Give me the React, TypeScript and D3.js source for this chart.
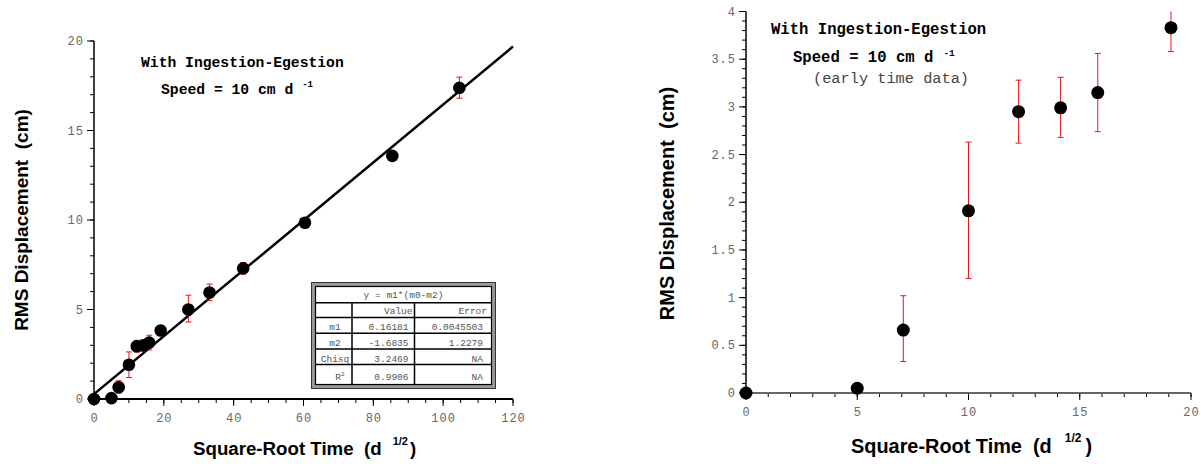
import React from "react";
import * as d3 from "d3";

// ---- data ----
const earlyX = [0, 5, 7.07, 10, 12.25, 14.14, 15.81, 19.1];
const earlyY = [0, 0.05, 0.66, 1.91, 2.95, 2.99, 3.15, 3.83];
const earlyLo = [0, 0.05, 0.33, 1.2, 2.62, 2.68, 2.74, 3.58];
const earlyHi = [0, 0.05, 1.02, 2.63, 3.28, 3.31, 3.56, 4.09];
const lateX = [27.02, 33.09, 42.72, 60.42, 85.44, 104.64];
const lateY = [5.0, 5.95, 7.3, 9.85, 13.58, 17.38];
const lateLo = [4.3, 5.5, 6.98, 9.75, 13.5, 16.8];
const lateHi = [5.8, 6.42, 7.62, 9.95, 13.66, 17.98];
const fitM1 = 0.16181;
const fitM2 = -1.6835;
const tableTitle = "y = m1*(m0-m2)";
const tableHead = ["", "Value", "Error"];
const tableNames = ["m1", "m2", "Chisq", "R"];
const tableValues = ["0.16181", "-1.6835", "3.2469", "0.9906"];
const tableErrors = ["0.0045503", "1.2279", "NA", "NA"];

const allX = [...earlyX, ...lateX];
const allY = [...earlyY, ...lateY];
const allLo = [...earlyLo, ...lateLo];
const allHi = [...earlyHi, ...lateHi];

const MONO = "'Liberation Mono', 'Courier New', monospace";
const SANS = "'Liberation Sans', Arial, Helvetica, sans-serif";
const RED = "#e8161b";

type AxisCfg = {
  x: d3.ScaleLinear<number, number>;
  y: d3.ScaleLinear<number, number>;
  xMajor: number[];
  xMinor: number[];
  yMajor: number[];
  yMinor: number[];
  xAxisColor: string;
};

function Axes({ x, y, xMajor, xMinor, yMajor, yMinor, xAxisColor }: AxisCfg) {
  const x0 = x.range()[0];
  const y0 = y.range()[0];
  const fmt = (v: number) => String(+v.toFixed(2));
  return (
    <g>
      {yMinor.map((v, i) => (
        <line key={"ym" + i} x1={x0 - 4} x2={x0} y1={y(v)} y2={y(v)} stroke="#000" strokeWidth={1} />
      ))}
      {yMajor.map((v, i) => (
        <g key={"yM" + i}>
          <line x1={x0 - 7} x2={x0} y1={y(v)} y2={y(v)} stroke="#000" strokeWidth={1} />
          <text x={x0 - 10} y={y(v) + 4} textAnchor="end" fontFamily={MONO} fontSize={12} fill="#666" letterSpacing={1}>
            {fmt(v)}
          </text>
        </g>
      ))}
      {xMinor.map((v, i) => (
        <line key={"xm" + i} x1={x(v)} x2={x(v)} y1={y0} y2={y0 + 4} stroke="#000" strokeWidth={1} />
      ))}
      {xMajor.map((v, i) => (
        <g key={"xM" + i}>
          <line x1={x(v)} x2={x(v)} y1={y0} y2={y0 + 7} stroke="#000" strokeWidth={1} />
          <text x={x(v) + 0.5} y={y0 + 23} textAnchor="middle" fontFamily={MONO} fontSize={12} fill="#666" letterSpacing={1}>
            {fmt(v)}
          </text>
        </g>
      ))}
      <line x1={x0} x2={x0} y1={y0} y2={y.range()[1]} stroke="#000" strokeWidth={1.5} />
      <line x1={x0} x2={x.range()[1]} y1={y0} y2={y0} stroke={xAxisColor} strokeWidth={2} />
    </g>
  );
}

function Points({ x, y, xs, ys, lo, hi, r, yMax }: any) {
  return (
    <g>
      {xs.map((xv: number, i: number) => {
        if (hi[i] - lo[i] < 0.01) return null;
        const clipped = hi[i] > yMax;
        const top = Math.min(hi[i], yMax);
        const cx = x(xv);
        return (
          <g key={"e" + i} stroke={RED} strokeWidth={1}>
            <line x1={cx} x2={cx} y1={y(lo[i])} y2={y(top)} />
            <line x1={cx - 3} x2={cx + 3} y1={y(lo[i])} y2={y(lo[i])} />
            {!clipped && <line x1={cx - 3} x2={cx + 3} y1={y(top)} y2={y(top)} />}
          </g>
        );
      })}
      {xs.map((xv: number, i: number) => (
        <circle key={"p" + i} cx={x(xv)} cy={y(ys[i])} r={r} fill="#000" />
      ))}
    </g>
  );
}

export default function App() {
  const xL = d3.scaleLinear().domain([0, 120]).range([94, 513]);
  const yL = d3.scaleLinear().domain([0, 20]).range([399, 41]);
  const xR = d3.scaleLinear().domain([0, 20]).range([746, 1191]);
  const yR = d3.scaleLinear().domain([0, 4]).range([393, 11.5]);

  const fitLine = d3
    .line<number>()
    .x((v) => xL(v))
    .y((v) => yL(fitM1 * (v - fitM2)));

  // table layout
  const tL = 313, tR = 494, tT = 284, tB = 387;
  const rowLines = [302.7, 317.5, 333.3, 349, 364.5];
  const colLines = [352, 414.5];
  const rowBase = [330, 346, 361.5, 379.5];

  return (
    <svg width={1201} height={464} style={{ position: "absolute", left: 0, top: 0, background: "#fff" }}>
      <rect width={1201} height={464} fill="#fff" />
      {/* ---------- left chart ---------- */}
      <Axes
        x={xL}
        y={yL}
        xMajor={d3.range(0, 121, 20)}
        xMinor={d3.range(0, 121, 5)}
        yMajor={d3.range(0, 21, 5)}
        yMinor={d3.range(0, 21, 1)}
        xAxisColor="#000"
      />
      <path d={fitLine([0, 120]) || ""} stroke="#000" strokeWidth={2.5} fill="none" />
      <Points x={xL} y={yL} xs={allX} ys={allY} lo={allLo} hi={allHi} r={6.3} yMax={20} />

      <text x={141} y={67} fontFamily={MONO} fontWeight="bold" fontSize={14.7} fill="#000">
        With Ingestion-Egestion
      </text>
      <text x={161} y={94} fontFamily={MONO} fontWeight="bold" fontSize={14.7} fill="#000">
        Speed = 10 cm d
        <tspan dx={9} dy={-7.5} fontSize={9}>-1</tspan>
      </text>

      {/* fit table */}
      <g>
        <rect x={tL - 1.5} y={tT - 1.5} width={tR - tL + 3} height={tB - tT + 3} fill="#fff" stroke="#333" strokeWidth={1} />
        <rect x={tL + 0.5} y={tT + 0.5} width={tR - tL - 1} height={tB - tT - 1} fill="none" stroke="#999" strokeWidth={3} />
        <rect x={tL + 2.5} y={tT + 2.5} width={tR - tL - 5} height={tB - tT - 5} fill="none" stroke="#000" strokeWidth={1.2} />
        {rowLines.map((ry, i) => (
          <line key={"rl" + i} x1={tL + 2.5} x2={tR - 2.5} y1={ry} y2={ry} stroke="#000" strokeWidth={1.5} />
        ))}
        {colLines.map((cx, i) => (
          <line key={"cl" + i} x1={cx} x2={cx} y1={rowLines[0]} y2={tB - 2.5} stroke="#000" strokeWidth={1.5} />
        ))}
        <text x={(tL + tR) / 2} y={298} textAnchor="middle" fontFamily={MONO} fontSize={9.5} fill="#555">
          {tableTitle}
        </text>
        <text x={colLines[1] - 2} y={314} textAnchor="end" fontFamily={MONO} fontSize={9.5} fill="#555">
          {tableHead[1]}
        </text>
        <text x={tR - 7} y={314} textAnchor="end" fontFamily={MONO} fontSize={9.5} fill="#555">
          {tableHead[2]}
        </text>
        {tableNames.map((n, i) => (
          <g key={"tr" + i}>
            <text x={i === 3 ? 340 : 335} y={rowBase[i]} textAnchor="middle" fontFamily={MONO} fontSize={9.5} fill="#555">
              {n}
              {i === 3 && <tspan dy={-4} fontSize={6}>2</tspan>}
            </text>
            <text x={colLines[1] - 6} y={rowBase[i]} textAnchor="end" fontFamily={MONO} fontSize={9.5} fill="#555">
              {tableValues[i]}
            </text>
            <text x={tR - 11} y={rowBase[i]} textAnchor="end" fontFamily={MONO} fontSize={9.5} fill="#555">
              {tableErrors[i]}
            </text>
          </g>
        ))}
      </g>

      <text transform="translate(27.5,220) rotate(-90)" textAnchor="middle" fontFamily={SANS} fontWeight="bold" fontSize={19} fill="#000" style={{ whiteSpace: "pre" }}>
        {"RMS Displacement  (cm)"}
      </text>
      <text x={193} y={455} fontFamily={SANS} fontWeight="bold" fontSize={18.7} fill="#000" style={{ whiteSpace: "pre" }}>
        {"Square-Root Time  (d"}
        <tspan dx={11} dy={-10} fontSize={11}>1/2</tspan>
        <tspan dx={2} dy={10}>)</tspan>
      </text>

      {/* ---------- right chart ---------- */}
      <Axes
        x={xR}
        y={yR}
        xMajor={d3.range(0, 21, 5)}
        xMinor={d3.range(0, 21, 1)}
        yMajor={d3.range(0, 4.01, 0.5)}
        yMinor={d3.range(0, 4.01, 0.1)}
        xAxisColor="#666"
      />
      <Points x={xR} y={yR} xs={earlyX} ys={earlyY} lo={earlyLo} hi={earlyHi} r={6.5} yMax={4} />

      <text x={771} y={34} fontFamily={MONO} fontWeight="bold" fontSize={15.6} fill="#000">
        With Ingestion-Egestion
      </text>
      <text x={793} y={62} fontFamily={MONO} fontWeight="bold" fontSize={15.6} fill="#000">
        Speed = 10 cm d
        <tspan dx={10} dy={-6.5} fontSize={9.5}>-1</tspan>
      </text>
      <text x={813} y={83} fontFamily={MONO} fontSize={15.3} fill="#444">
        (early time data)
      </text>

      <text transform="translate(674,203.5) rotate(-90)" textAnchor="middle" fontFamily={SANS} fontWeight="bold" fontSize={20} fill="#000" style={{ whiteSpace: "pre" }}>
        {"RMS Displacement  (cm)"}
      </text>
      <text x={851} y={453} fontFamily={SANS} fontWeight="bold" fontSize={19.9} fill="#000" style={{ whiteSpace: "pre" }}>
        {"Square-Root Time  (d"}
        <tspan dx={13} dy={-11.5} fontSize={12}>1/2</tspan>
        <tspan dx={4} dy={11.5}>)</tspan>
      </text>
    </svg>
  );
}
